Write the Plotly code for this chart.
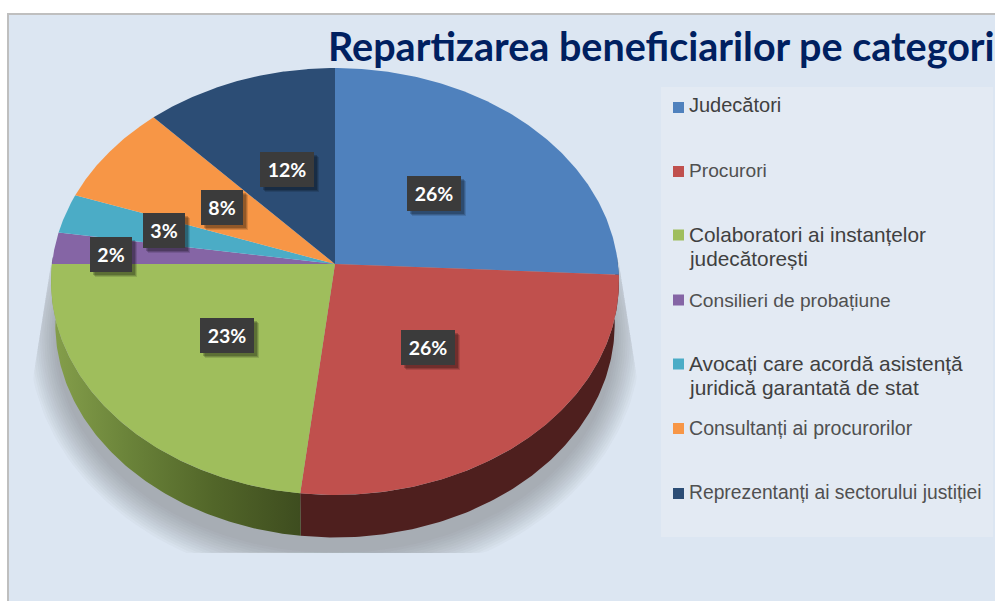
import numpy as np
import plotly.graph_objects as go

# ---- data ----
categories = ["Judecători", "Procurori", "Colaboratori ai instanțelor<br>judecătorești",
              "Consilieri de probațiune", "Avocați care acordă asistență<br>juridică garantată de stat",
              "Consultanți ai procurorilor", "Reprezentanți ai sectorului justiției"]
values = [25.8, 26.0, 23.2, 2.4, 3.0, 7.7, 11.9]
colors = ["#4F81BD", "#C0504D", "#9FBE5C", "#8565A5", "#4BACC6", "#F79646", "#2C4D75"]
side_flat = ["#26405F", "#4E1F1E", "#4F6228", "#403152", "#215968", "#984807", "#17375E"]
title = "Repartizarea beneficiarilor pe categorii"

# ---- styling / placement ----
CX, CY, R, H, K = 335.0, 264.0, 283.0, 212.0, 0.082
DEPTH = 42.5
BG, PANEL, BORDER = "#DCE6F2", "#E3EAF3", "#BFBFBF"
marker_y = [107.5, 171.5, 235, 300, 364, 428.5, 493.5]
text_y = [[105], [170.5], [234.5, 258], [300], [363.5, 387], [428], [492]]
legend_fs = [20, 19.2, 20.8, 19.2, 20.9, 19.6, 19.3]
legend_color = ["#404040", "#505050", "#404040", "#505050", "#404040", "#505050", "#505050"]
label_xy = [(434, 193), (428, 347), (227, 335), (111, 254), (163.5, 230.5), (221.5, 207), (286.5, 169)]
label_w = [54, 54, 54, 42, 42, 42, 54]
LABEL_H = 35


def project(theta_deg, scale=1.0, dy=0.0):
    t = np.radians(theta_deg)
    u, v = np.sin(t), np.cos(t)
    d = 1 + K * v
    return CX + scale * R * u / d, CY + dy - H * v / d


fig = go.Figure()

# blurred cast shadow built from stacked translucent ellipses, clipped like the original
N = 13
for i in range(N):
    t = np.linspace(0, 2 * np.pi, 240)
    rx = 306 - i * 2.2
    ry = 246 - i * 2.6
    x = CX + rx * np.cos(t)
    y = 338 + ry * np.sin(t)
    y = np.minimum(y, 553)
    y = np.maximum(y, 262)
    xl = 51 - (y - 264) * 0.157
    xr = 619 + (y - 264) * 0.157
    x = np.clip(x, xl, xr)
    fig.add_trace(go.Scatter(x=x, y=y, mode="lines", fill="toself", line=dict(width=0),
                             fillcolor="rgba(92,98,108,0.038)", hoverinfo="skip", showlegend=False))

edges = np.concatenate([[0], np.cumsum(values)]) * 3.6

# side walls
for i in range(len(values)):
    a0, a1 = max(edges[i], 88.0), min(edges[i + 1], 272.0)
    if a1 <= a0:
        continue
    th = np.linspace(a0, a1, 120)
    xt, yt = project(th)
    xb, yb = project(th[::-1], scale=0.985, dy=DEPTH)
    kw = dict(fillcolor=side_flat[i])
    if i == 2:
        kw = dict(fillgradient=dict(type="horizontal", start=52, stop=300,
                                    colorscale=[[0, "#859F4B"], [0.3, "#6B843A"], [0.65, "#526629"], [1, "#3E4D1F"]]))
    fig.add_trace(go.Scatter(x=np.r_[xt, xb], y=np.r_[yt, yb], mode="lines", fill="toself",
                             line=dict(width=0), hoverinfo="skip", showlegend=False, **kw))

# top faces
for i in range(len(values)):
    th = np.linspace(edges[i], edges[i + 1], 160)
    x, y = project(th)
    fig.add_trace(go.Scatter(x=np.r_[CX, x, CX], y=np.r_[CY, y, CY], mode="lines", fill="toself",
                             line=dict(width=0), fillcolor=colors[i], name=categories[i],
                             hoverinfo="skip", showlegend=False))

# legend squares
for i, c in enumerate(colors):
    fig.add_trace(go.Scatter(x=[678.5], y=[marker_y[i]], mode="markers",
                             marker=dict(symbol="square", size=11, color=c, line=dict(width=0)),
                             hoverinfo="skip", showlegend=False))

ann = []
ann.append(dict(x=326, y=45, text=f"<b>{title}</b>", xanchor="left", yanchor="middle", showarrow=False,
                font=dict(family="Lato", size=39.5, color="#002060")))
for i, name in enumerate(categories):
    for line, ty in zip(name.split("<br>"), text_y[i]):
        ann.append(dict(x=687, y=ty, text=line, xanchor="left", yanchor="middle",
                        align="left", showarrow=False,
                        font=dict(family="Liberation Sans", size=legend_fs[i], color=legend_color[i])))
for i, (lx, ly) in enumerate(label_xy):
    for ox, oy, col in [(5, 5, "rgba(0,0,0,0.12)"), (4, 4, "rgba(0,0,0,0.16)"), (3, 3, "rgba(0,0,0,0.2)")]:
        ann.append(dict(x=lx + ox, y=ly + oy, text=" ", showarrow=False, width=label_w[i], height=LABEL_H,
                        bgcolor=col, borderpad=0, borderwidth=0, font=dict(size=10)))
    ann.append(dict(x=lx, y=ly, text=f"<b>{round(values[i])}%</b>", showarrow=False, width=label_w[i], height=LABEL_H,
                    bgcolor="#3B3B3B", borderpad=0, borderwidth=0, valign="middle",
                    font=dict(family="Lato", size=19.5, color="#FFFFFF")))

shapes = [
    dict(type="rect", x0=8, y0=14, x1=1000, y1=610, fillcolor=BG, line=dict(color=BORDER, width=2), layer="below"),
    dict(type="rect", x0=661, y0=87, x1=993, y1=537, fillcolor=PANEL, line=dict(width=0), layer="below"),
]

fig.update_layout(
    width=995, height=601, margin=dict(l=0, r=0, t=0, b=0), paper_bgcolor="#FFFFFF", plot_bgcolor="#FFFFFF",
    xaxis=dict(range=[0, 995], visible=False, fixedrange=True),
    yaxis=dict(range=[601, 0], visible=False, fixedrange=True),
    showlegend=False, annotations=ann, shapes=shapes,
)
fig.write_html("out.html", config={"displayModeBar": False},
               post_script="document.body.style.margin='0';document.body.style.overflow='hidden';")
